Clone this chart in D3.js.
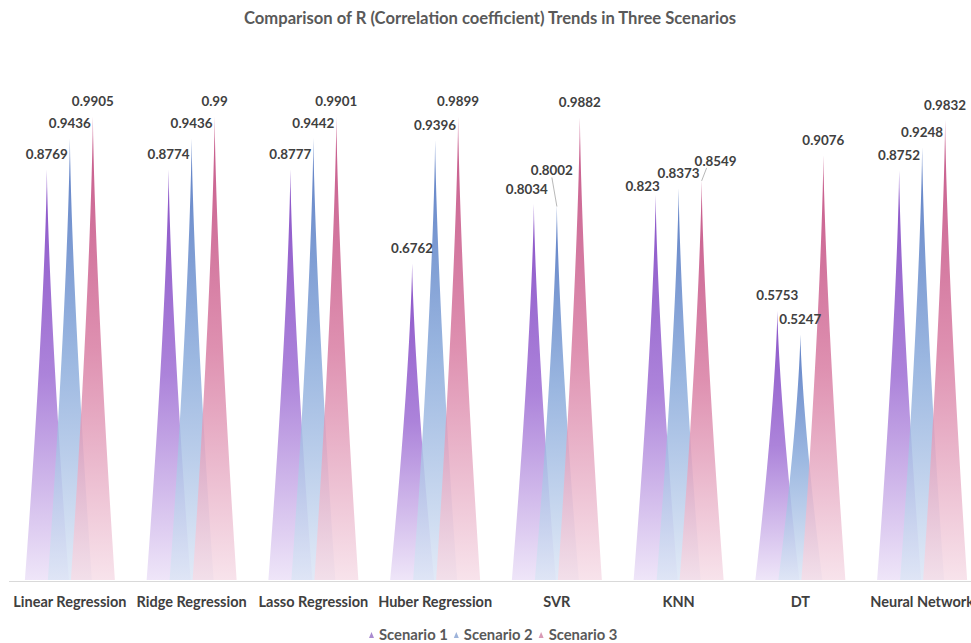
<!DOCTYPE html>
<html>
<head>
<meta charset="utf-8">
<script src="https://cdn.jsdelivr.net/npm/d3@7"></script>
<style>
  body { margin: 0; background: #fff; overflow: hidden; }
  svg { display: block; font-family: Lato, "Open Sans", sans-serif; }
</style>
</head>
<body>
<div id="chart"></div>
<script>
var width = 971,
    height = 643,
    baseline = 580;

var categories = ['Linear Regression', 'Ridge Regression', 'Lasso Regression', 'Huber Regression',
                  'SVR', 'KNN', 'DT', 'Neural Network'];
var seriesNames = ['Scenario 1', 'Scenario 2', 'Scenario 3'];
var scenario1 = [0.8769, 0.8774, 0.8777, 0.6762, 0.8034, 0.823, 0.5753, 0.8752];
var scenario2 = [0.9436, 0.9436, 0.9442, 0.9396, 0.8002, 0.8373, 0.5247, 0.9248];
var scenario3 = [0.9905, 0.99, 0.9901, 0.9899, 0.9882, 0.8549, 0.9076, 0.9832];

var colors = [
    { top: '#6f2cbb', mid: '#9a68d2', bottom: '#ebe0f7', mark: '#a98bd0' },
    { top: '#3a62b8', mid: '#86a8da', bottom: '#dbe5f5', mark: '#9db3da' },
    { top: '#b8326e', mid: '#d7789f', bottom: '#f6dde7', mark: '#d99ab5' }
];

// label nudges where excel moved labels out of the way, key series-category -> [dx, dy, leader]
var nudges = {
    '0-4': [-7, 0, false],
    '1-4': [-5, -20, true],
    '0-5': [-13, 6, false],
    '2-5': [14, -4, true]
};

var rows = [];
categories.forEach(function(c, i) {
    [scenario1, scenario2, scenario3].forEach(function(s, j) {
        rows.push({ category: c, series: j, value: s[i], ci: i });
    });
});

var svg = d3.select('#chart').append('svg')
    .attr('width', width)
    .attr('height', height);

var x = d3.scaleBand().domain(categories).range([9, 983]);
var xs = d3.scaleBand().domain(seriesNames).range([-34.5, 34.5]);
var y = d3.scaleLinear().domain([0, 1.2]).range([baseline, 18.4]);
var halfW = 22;

var defs = svg.append('defs');
colors.forEach(function(c, j) {
    var g = defs.append('linearGradient')
        .attr('id', 'grad' + j)
        .attr('x1', 0).attr('y1', 0).attr('x2', 0).attr('y2', 1);
    g.append('stop').attr('offset', '0%').attr('stop-color', c.top);
    g.append('stop').attr('offset', '50%').attr('stop-color', c.mid);
    g.append('stop').attr('offset', '100%').attr('stop-color', c.bottom);
});

svg.append('text')
    .attr('x', 490)
    .attr('y', 24)
    .attr('text-anchor', 'middle')
    .attr('font-size', 16.6)
    .attr('font-weight', 700)
    .attr('fill', '#595959')
    .text('Comparison of R (Correlation coefficient) Trends in Three Scenarios');

var cx = function(d) {
    return x(d.category) + x.bandwidth() / 2 + xs(seriesNames[d.series]) + xs.bandwidth() / 2;
};

// spike with slightly concave sides
var spike = function(d) {
    var c = cx(d),
        top = y(d.value),
        h = baseline - top,
        pts = [],
        n = 24,
        k;
    for (k = n; k >= 0; k--) {
        var t = k / n;
        pts.push([c - halfW * Math.pow(t, 1.4), top + h * t]);
    }
    for (k = 1; k <= n; k++) {
        var t2 = k / n;
        pts.push([c + halfW * Math.pow(t2, 1.4), top + h * t2]);
    }
    return d3.line()(pts) + 'Z';
};

svg.append('g').selectAll('path').data(rows)
    .enter().append('path')
    .attr('d', spike)
    .attr('fill', function(d) { return 'url(#grad' + d.series + ')'; })
    .attr('fill-opacity', 0.82);

svg.append('line')
    .attr('x1', 9).attr('x2', 983)
    .attr('y1', baseline + 1.5).attr('y2', baseline + 1.5)
    .attr('stroke', '#d9d9d9')
    .attr('stroke-width', 1);

var labels = svg.append('g').selectAll('g').data(rows)
    .enter().append('g');

labels.each(function(d) {
    var nd = nudges[d.series + '-' + d.ci] || [0, 0, false];
    var lx = cx(d) + nd[0],
        ly = y(d.value) - 15 + nd[1];
    var g = d3.select(this);
    if (nd[2]) {
        g.append('line')
            .attr('x1', lx + (nd[0] > 0 ? -9 : 0)).attr('y1', ly + 7)
            .attr('x2', cx(d)).attr('y2', y(d.value) + 1)
            .attr('stroke', '#a6a6a6')
            .attr('stroke-width', 0.8);
    }
    g.append('text')
        .attr('x', lx)
        .attr('y', ly)
        .attr('dy', '0.35em')
        .attr('text-anchor', 'middle')
        .attr('font-size', 13.4)
        .attr('font-weight', 700)
        .attr('fill', '#404040')
        .text(d.value);
});

svg.append('g').selectAll('text').data(categories)
    .enter().append('text')
    .attr('x', function(d) { return x(d) + x.bandwidth() / 2; })
    .attr('y', 602)
    .attr('dy', '0.35em')
    .attr('text-anchor', 'middle')
    .attr('font-size', 14.5)
    .attr('font-weight', 700)
    .attr('fill', '#404040')
    .text(function(d) { return d; });

var legend = svg.append('g').attr('transform', 'translate(369,635)');
var lx = 0;
seriesNames.forEach(function(s, j) {
    var item = legend.append('g').attr('transform', 'translate(' + lx + ',0)');
    item.append('path')
        .attr('d', 'M0,3L2.5,-3L5,3Z')
        .attr('fill', colors[j].mark);
    var t = item.append('text')
        .attr('x', 10)
        .attr('dy', '0.35em')
        .attr('font-size', 14.8)
        .attr('font-weight', 700)
        .attr('fill', '#595959')
        .text(s);
    lx += 10 + t.node().getComputedTextLength() + 6;
});
</script>
</body>
</html>
